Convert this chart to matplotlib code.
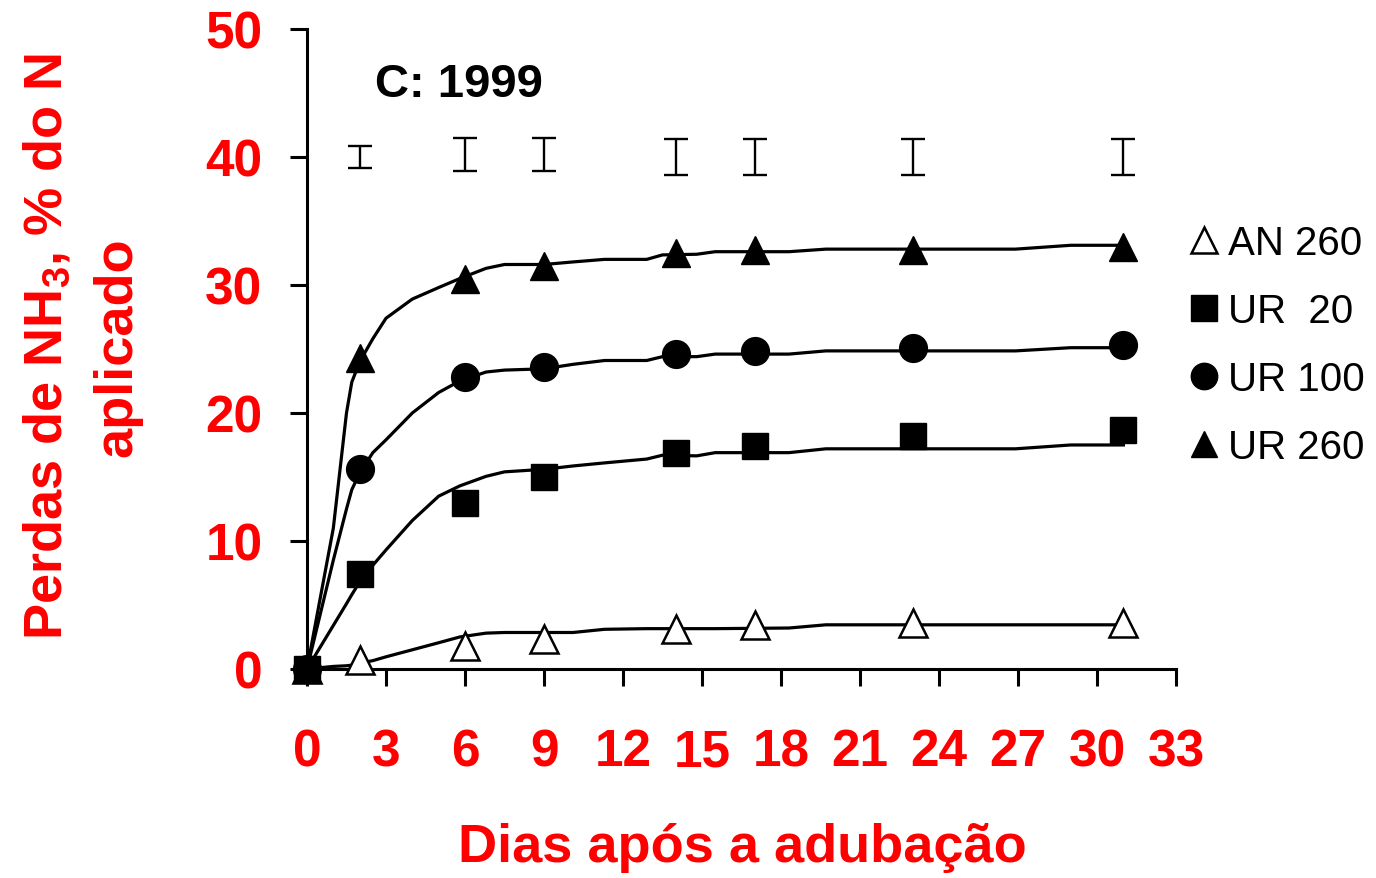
import matplotlib
matplotlib.use('Agg')
import matplotlib.pyplot as plt
import numpy as np

plt.rcParams['font.family'] = ['Liberation Sans', 'DejaVu Sans']
plt.rcParams['mathtext.fontset'] = 'custom'
plt.rcParams['mathtext.rm'] = 'Liberation Sans:bold'
plt.rcParams['mathtext.default'] = 'rm'

# medições
dias = [0, 2, 6, 9, 14, 17, 23, 31]
an260 = [0, 0.7, 1.8, 2.35, 3.1, 3.4, 3.6, 3.6]
ur20 = [0, 7.4, 12.95, 15.0, 16.9, 17.4, 18.2, 18.7]
ur100 = [0, 15.65, 22.8, 23.6, 24.6, 24.85, 25.1, 25.3]
ur260 = [0, 24.3, 30.5, 31.45, 32.5, 32.7, 32.7, 33.0]

# curvas ajustadas
dias_aj = [0, 1, 1.5, 1.7, 2, 2.5, 3, 4, 5, 5.8, 6.8, 7.5, 9, 10.1, 11.3, 12.9,
           13.5, 14.8, 15.5, 18.3, 19.7, 26.9, 29, 31]
an260_aj = [0, 0.2, 0.25, 0.3, 0.45, 0.65, 0.95, 1.5, 2.05, 2.5, 2.8, 2.85, 2.85,
            2.85, 3.1, 3.15, 3.15, 3.15, 3.15, 3.2, 3.45, 3.45, 3.45, 3.45]
ur20_aj = [0, 3.4, 5.1, 5.8, 6.8, 8.1, 9.3, 11.6, 13.5, 14.3, 15.05, 15.4, 15.6,
           15.86, 16.1, 16.4, 16.7, 16.65, 16.9, 16.9, 17.2, 17.2, 17.5, 17.5]
ur100_aj = [0, 8.5, 12.5, 14.0, 15.3, 16.9, 17.9, 20.0, 21.6, 22.5, 23.2, 23.35, 23.45,
            23.8, 24.1, 24.1, 24.4, 24.4, 24.6, 24.6, 24.85, 24.85, 25.1, 25.1]
ur260_aj = [0, 11, 20, 22.4, 24.0, 25.8, 27.4, 28.9, 29.8, 30.5, 31.3, 31.6, 31.6,
            31.8, 32.0, 32.0, 32.35, 32.4, 32.6, 32.6, 32.8, 32.8, 33.1, 33.1]

# DMS
dms_dias = [2, 6, 9, 14, 17, 23, 31]
dms_centro = [40.0, 40.2, 40.2, 40.0, 40.0, 40.0, 40.0]
dms_meio = [0.88, 1.27, 1.27, 1.43, 1.43, 1.43, 1.43]

vermelho = '#ff0000'

fig = plt.figure(figsize=(13.76, 8.79), dpi=100)
ax = fig.add_axes([0.2231, 0.2378, 0.6316, 0.7281])

for y in [an260_aj, ur20_aj, ur100_aj, ur260_aj]:
    ax.plot(dias_aj, y, color='black', lw=2.3, zorder=2)

ax.plot(dias, an260, ls='none', marker='^', ms=20, mfc='white', mec='black', mew=1.8,
        label='AN 260', zorder=4, clip_on=False)
ax.plot(dias, ur20, ls='none', marker='s', ms=19, mfc='black', mec='black',
        label='UR  20', zorder=4, clip_on=False)
ax.plot(dias, ur100, ls='none', marker='o', ms=20, mfc='black', mec='black',
        label='UR 100', zorder=4, clip_on=False)
ax.plot(dias, ur260, ls='none', marker='^', ms=20, mfc='black', mec='black',
        label='UR 260', zorder=4, clip_on=False)

ax.errorbar(dms_dias, dms_centro, yerr=dms_meio, fmt='none', ecolor='black',
            elinewidth=1.7, capsize=8.5, capthick=1.7)

ax.set_xlim(0, 33)
ax.set_ylim(0, 50)
ax.set_xticks(np.arange(0, 34, 3))
ax.set_yticks(np.arange(0, 51, 10))
for s in ['top', 'right']:
    ax.spines[s].set_visible(False)
for s in ['left', 'bottom']:
    ax.spines[s].set_linewidth(2.2)
ax.tick_params(axis='both', direction='out', length=12, width=2.2, color='black',
               labelcolor=vermelho, labelsize=37)
ax.tick_params(axis='x', pad=30)
ax.tick_params(axis='y', pad=20)
for lb in ax.get_xticklabels() + ax.get_yticklabels():
    lb.set_fontweight('bold')

ax.text(0.078, 0.896, 'C: 1999', transform=ax.transAxes, fontsize=34,
        fontweight='bold', color='black')

fig.text(742 / 1376, 1 - 848 / 879, 'Dias após a adubação', color=vermelho,
         fontsize=39, fontweight='bold', ha='center', va='center')
fig.text(82 / 1376, 1 - 347 / 879, 'Perdas de NH$_3$, % do N\naplicado', color=vermelho,
         fontsize=39, fontweight='bold', ha='center', va='center', rotation=90,
         multialignment='center', linespacing=1.5)

fig.legend(loc='center left', bbox_to_anchor=(1190 / 1376, 1 - 346 / 879),
           frameon=False, fontsize=29, handlelength=0.7, handletextpad=0.25,
           labelspacing=0.75, borderpad=0, borderaxespad=0, markerscale=0.95)

fig.savefig('out.png', dpi=100)
